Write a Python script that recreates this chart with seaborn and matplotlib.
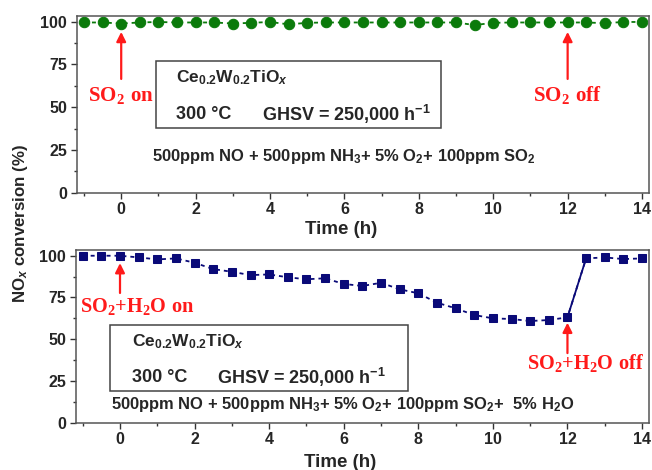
import matplotlib
matplotlib.use("Agg")
import matplotlib.pyplot as plt
import seaborn as sns
from matplotlib.patches import Rectangle
from matplotlib.ticker import MultipleLocator

# time on stream (h), one point every half hour
time_h = [-1.0, -0.5, 0.0, 0.5, 1.0, 1.5, 2.0, 2.5, 3.0, 3.5, 4.0, 4.5, 5.0, 5.5, 6.0, 6.5,
          7.0, 7.5, 8.0, 8.5, 9.0, 9.5, 10.0, 10.5, 11.0, 11.5, 12.0, 12.5, 13.0, 13.5, 14.0]

# NOx conversion (%) with SO2 only
conv_so2 = [99.5, 99.5, 98.9, 99.5, 99.8, 99.5, 99.5, 99.5, 98.9, 99.3, 99.8, 98.4, 99.3, 99.5, 99.5, 99.5,
            99.5, 99.5, 99.5, 99.5, 99.5, 98.0, 99.3, 99.5, 99.5, 99.5, 99.5, 99.5, 99.1, 99.8, 99.8]

# NOx conversion (%) with SO2 + H2O
conv_so2_h2o = [100.0, 100.0, 100.0, 99.0, 97.8, 98.4, 95.8, 92.0, 90.4, 88.4, 88.8, 87.1, 85.9, 86.5, 83.1, 81.9,
                83.8, 79.9, 77.5, 71.9, 68.5, 64.5, 62.5, 62.1, 60.9, 61.5, 63.1, 98.4, 99.0, 98.0, 98.4]

# gas switched on / off at these times
t_on = 0
t_off = 12

sns.set_style("ticks")
plt.rcParams['font.family'] = ['Liberation Sans', 'DejaVu Sans']
plt.rcParams['font.weight'] = 'bold'
plt.rcParams['mathtext.fontset'] = 'custom'
plt.rcParams['mathtext.rm'] = 'Liberation Sans:bold'
plt.rcParams['mathtext.it'] = 'Liberation Sans:italic:bold'
plt.rcParams['mathtext.bf'] = 'Liberation Serif:bold'

green = '#0b7a0b'
navy = '#0a0a78'
red = '#ff1a1a'

fig = plt.figure(figsize=(6.52, 4.70), dpi=100)
ax1 = fig.add_axes([0.118, 0.590, 0.877, 0.376])
ax2 = fig.add_axes([0.116, 0.1006, 0.879, 0.367])

# top panel: SO2
sns.lineplot(x=time_h, y=conv_so2, ax=ax1, color=green, marker='o', markersize=7.5,
             markeredgecolor=green, linestyle=(0, (2.2, 2.2)), linewidth=1.3)

# bottom panel: SO2 + H2O, solid jump where the gas is switched off
sns.lineplot(x=time_h, y=conv_so2_h2o, ax=ax2, color=navy, marker='s', markersize=6,
             markeredgecolor=navy, linestyle=(0, (2.2, 2.2)), linewidth=1.3)
i_off = time_h.index(t_off)
sns.lineplot(x=time_h[i_off:i_off + 2], y=conv_so2_h2o[i_off:i_off + 2], ax=ax2, color=navy,
             linewidth=1.3)

for ax, label_y in ((ax1, -0.16), (ax2, -0.18)):
    ax.set_xlim(-1.19, 14.18)
    ax.set_ylim(0, 103.3)
    ax.xaxis.set_major_locator(MultipleLocator(2))
    ax.xaxis.set_minor_locator(MultipleLocator(1))
    ax.yaxis.set_major_locator(MultipleLocator(25))
    ax.yaxis.set_minor_locator(MultipleLocator(12.5))
    ax.tick_params(which='major', length=4, width=1, direction='out', labelsize=11.5, pad=3,
                   color='#333333')
    ax.tick_params(which='minor', length=2.5, width=1, direction='out', color='#333333')
    for s in ax.spines.values():
        s.set_color('#555555')
        s.set_linewidth(1.1)
    for lab in ax.get_xticklabels() + ax.get_yticklabels():
        lab.set_fontweight('bold')
    ax.set_xlabel('Time (h)', fontsize=13.5, fontweight='bold')
    ax.xaxis.set_label_coords(0.462, label_y)
    ax.set_ylabel('')

fig.text(0.031, 0.525, 'NO$_x$ conversion (%)', rotation=90, ha='center', va='center',
         fontsize=12.2, fontweight='bold')

arrow = dict(arrowstyle='-|>', color=red, lw=1.6, mutation_scale=14, shrinkA=0, shrinkB=0)

# top annotations
ax1.annotate('', xy=(t_on, 94), xytext=(t_on, 66.5), arrowprops=arrow)
ax1.annotate('', xy=(t_off, 94), xytext=(t_off, 66.5), arrowprops=arrow)
ax1.text(t_on, 57, r'$\mathbf{SO_2\ on}$', color=red, fontsize=15, ha='center', va='center')
ax1.text(t_off, 57, r'$\mathbf{SO_2\ off}$', color=red, fontsize=15, ha='center', va='center')
ax1.add_patch(Rectangle((0.139, 0.364), 0.497, 0.381, transform=ax1.transAxes, fill=False,
                        edgecolor='#444444', linewidth=1.1))
ax1.text(0.173, 0.649, 'Ce$_{0.2}$W$_{0.2}$TiO$_x$', transform=ax1.transAxes, fontsize=12.5,
         fontweight='bold', ha='left', va='center')
ax1.text(0.173, 0.445, '300 °C', transform=ax1.transAxes, fontsize=13,
         fontweight='bold', ha='left', va='center')
ax1.text(0.323, 0.445, 'GHSV = 250,000 h$^{-1}$', transform=ax1.transAxes, fontsize=13,
         fontweight='bold', ha='left', va='center')
ax1.text(0.131, 0.204, '500ppm NO + 500ppm NH$_3$+ 5% O$_2$+ 100ppm SO$_2$', transform=ax1.transAxes,
         fontsize=11.9, fontweight='bold', ha='left', va='center')

# bottom annotations
ax2.annotate('', xy=(t_on, 95.6), xytext=(t_on, 77.7), arrowprops=arrow)
ax2.annotate('', xy=(t_off, 59.9), xytext=(t_off, 41.7), arrowprops=arrow)
ax2.text(-1.07, 69.5, r'$\mathbf{SO_2{+}H_2O\ on}$', color=red, fontsize=14.6, ha='left', va='center')
ax2.text(12.5, 35.6, r'$\mathbf{SO_2{+}H_2O\ off}$', color=red, fontsize=14.6, ha='center', va='center')
ax2.add_patch(Rectangle((0.060, 0.186), 0.520, 0.381, transform=ax2.transAxes, fill=False,
                        edgecolor='#444444', linewidth=1.1))
ax2.text(0.098, 0.470, 'Ce$_{0.2}$W$_{0.2}$TiO$_x$', transform=ax2.transAxes, fontsize=12.5,
         fontweight='bold', ha='left', va='center')
ax2.text(0.098, 0.263, '300 °C', transform=ax2.transAxes, fontsize=13,
         fontweight='bold', ha='left', va='center')
ax2.text(0.246, 0.263, 'GHSV = 250,000 h$^{-1}$', transform=ax2.transAxes, fontsize=13,
         fontweight='bold', ha='left', va='center')
ax2.text(0.062, 0.108, '500ppm NO + 500ppm NH$_3$+ 5% O$_2$+ 100ppm SO$_2$+  5% H$_2$O',
         transform=ax2.transAxes, fontsize=11.9, fontweight='bold', ha='left', va='center')

fig.savefig('out.png', dpi=100)
